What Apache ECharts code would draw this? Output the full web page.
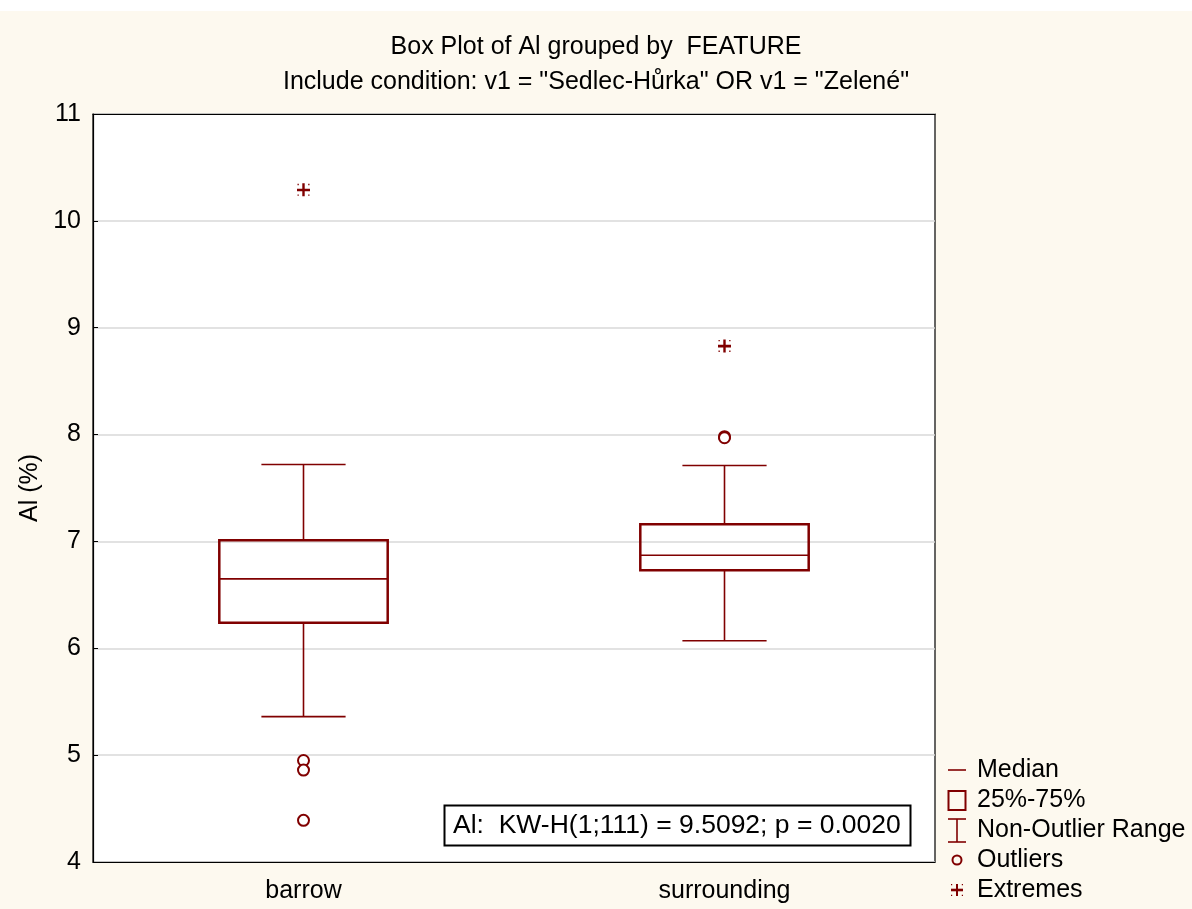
<!DOCTYPE html>
<html>
<head>
<meta charset="utf-8">
<script src="https://cdn.jsdelivr.net/npm/echarts@6/dist/echarts.min.js"></script>
<style>
html,body{margin:0;padding:0;background:#fdf9ef;}
#chart{width:1192px;height:909px;}
</style>
</head>
<body>
<div id="chart"></div>
<script>
// ---- data ----
const categories = ['barrow', 'surrounding'];
const whiskerLow  = [5.36, 6.07];
const quartile1   = [6.24, 6.73];
const medians     = [6.65, 6.87];
const quartile3   = [7.01, 7.16];
const whiskerHigh = [7.72, 7.71];
const outliers = [[0, 4.95], [0, 4.86], [0, 4.39], [1, 7.98], [1, 7.97]];
const extremes = [[0, 10.29], [1, 8.83]];
const yMin = 4, yMax = 11, yStep = 1;
const titleText = 'Box Plot of Al grouped by  FEATURE';
const subtitleText = 'Include condition: v1 = "Sedlec-Hůrka" OR v1 = "Zelené"';
const statText = 'Al:  KW-H(1;111) = 9.5092; p = 0.0020';
const legendNames = ['Median', '25%-75%', 'Non-Outlier Range', 'Outliers', 'Extremes'];

// ---- styling ----
const C = '#800000';
const FONT = '"Liberation Sans", Arial, sans-serif';
const boxData = categories.map((c, i) => [i, whiskerLow[i], quartile1[i], medians[i], quartile3[i], whiskerHigh[i]]);
const extremePath = 'path://M0,5.3H13V8H0Z M5.3,0H7.7V13H5.3Z M0.5,0.5H1.8V1.8H0.5Z M11.2,0.5H12.5V1.8H11.2Z M0.5,11.2H1.8V12.5H0.5Z M11.2,11.2H12.5V12.5H11.2Z';

function renderBox(params, api) {
  const x = api.value(0);
  const p1 = api.coord([x, api.value(2)]);
  const p3 = api.coord([x, api.value(4)]);
  const w = api.size([1, 0])[0] * 0.4;
  return {type: 'rect', shape: {x: p1[0] - w / 2, y: p3[1], width: w, height: p1[1] - p3[1]},
          style: {fill: 'none', stroke: C, lineWidth: 2.5}};
}
function renderMedian(params, api) {
  const x = api.value(0);
  const pm = api.coord([x, api.value(3)]);
  const w = api.size([1, 0])[0] * 0.4;
  return {type: 'line', shape: {x1: pm[0] - w / 2, y1: pm[1], x2: pm[0] + w / 2, y2: pm[1]},
          style: {stroke: C, lineWidth: 1.6}};
}
function renderWhisker(params, api) {
  const x = api.value(0);
  const pl = api.coord([x, api.value(1)]);
  const p1 = api.coord([x, api.value(2)]);
  const p3 = api.coord([x, api.value(4)]);
  const ph = api.coord([x, api.value(5)]);
  const cw = api.size([1, 0])[0] * 0.2;
  const st = {stroke: C, lineWidth: 1.6};
  return {type: 'group', children: [
    {type: 'line', shape: {x1: ph[0], y1: ph[1], x2: p3[0], y2: p3[1]}, style: st},
    {type: 'line', shape: {x1: pl[0], y1: pl[1], x2: p1[0], y2: p1[1]}, style: st},
    {type: 'line', shape: {x1: ph[0] - cw / 2, y1: ph[1], x2: ph[0] + cw / 2, y2: ph[1]}, style: st},
    {type: 'line', shape: {x1: pl[0] - cw / 2, y1: pl[1], x2: pl[0] + cw / 2, y2: pl[1]}, style: st}
  ]};
}

// legend built from graphic elements
const LX = 948, LT = 977, LY0 = 770, LDY = 30;
const legendGraphics = [];
legendGraphics.push({type: 'line', shape: {x1: LX, y1: LY0, x2: LX + 18, y2: LY0}, style: {stroke: C, lineWidth: 1.6}});
legendGraphics.push({type: 'rect', shape: {x: LX + 0.5, y: LY0 + LDY - 9, width: 17, height: 19}, style: {fill: 'none', stroke: C, lineWidth: 2}});
legendGraphics.push({type: 'line', shape: {x1: LX, y1: LY0 + 2 * LDY - 11, x2: LX + 18, y2: LY0 + 2 * LDY - 11}, style: {stroke: C, lineWidth: 1.6}});
legendGraphics.push({type: 'line', shape: {x1: LX, y1: LY0 + 2 * LDY + 12, x2: LX + 18, y2: LY0 + 2 * LDY + 12}, style: {stroke: C, lineWidth: 1.6}});
legendGraphics.push({type: 'line', shape: {x1: LX + 9, y1: LY0 + 2 * LDY - 11, x2: LX + 9, y2: LY0 + 2 * LDY + 12}, style: {stroke: C, lineWidth: 1.6}});
legendGraphics.push({type: 'circle', shape: {cx: LX + 9, cy: LY0 + 3 * LDY, r: 4.5}, style: {fill: 'none', stroke: C, lineWidth: 2}});
(function () {
  const cx = LX + 9, cy = LY0 + 4 * LDY;
  const parts = [[-6, -1.3, 12, 2.6], [-1, -6, 2, 12], [-6, -6, 1.2, 1.2], [4.8, -6, 1.2, 1.2], [-6, 4.8, 1.2, 1.2], [4.8, 4.8, 1.2, 1.2]];
  legendGraphics.push({type: 'group', children: parts.map(p => ({type: 'rect', shape: {x: cx + p[0], y: cy + p[1], width: p[2], height: p[3]}, style: {fill: C}}))});
})();
legendNames.forEach((n, i) => {
  legendGraphics.push({type: 'text', x: LT, y: LY0 + i * LDY,
    style: {text: n, font: '25px ' + FONT, fill: '#000', verticalAlign: 'middle', align: 'left'}});
});

const chart = echarts.init(document.getElementById('chart'), null, {renderer: 'canvas'});
chart.setOption({
  backgroundColor: '#fdf9ef',
  animation: false,
  title: {
    text: titleText, subtext: subtitleText, left: 'center', top: 30, itemGap: 10,
    textStyle: {fontFamily: FONT, fontSize: 25, fontWeight: 'normal', color: '#000'},
    subtextStyle: {fontFamily: FONT, fontSize: 25, color: '#000'}
  },
  grid: {left: 93, top: 114, width: 842, height: 748, show: true, backgroundColor: '#fff',
         borderColor: '#000', borderWidth: 1.2},
  xAxis: [{
    type: 'category', data: categories, position: 'bottom',
    axisLine: {lineStyle: {color: '#000', width: 1.2}},
    axisTick: {inside: true, alignWithLabel: true, length: 5, lineStyle: {color: '#000'}},
    axisLabel: {fontFamily: FONT, fontSize: 25, color: '#000', margin: 17},
    splitLine: {show: false}
  }, {
    type: 'category', data: categories, position: 'top',
    axisLine: {lineStyle: {color: '#000', width: 1.2}},
    axisTick: {inside: true, alignWithLabel: true, length: 5, lineStyle: {color: '#000'}},
    axisLabel: {show: false}
  }],
  yAxis: {
    type: 'value', min: yMin, max: yMax, interval: yStep,
    name: 'Al (%)', nameLocation: 'middle', nameGap: 50, nameRotate: 90,
    nameTextStyle: {fontFamily: FONT, fontSize: 25, color: '#000'},
    axisLine: {show: true, lineStyle: {color: '#000', width: 1.2}},
    axisTick: {show: true, inside: true, length: 5, lineStyle: {color: '#000'}},
    axisLabel: {fontFamily: FONT, fontSize: 25, color: '#000', margin: 12},
    splitLine: {show: true, lineStyle: {color: '#d9d9d9', width: 1.5}}
  },
  series: [
    {name: 'Non-Outlier Range', type: 'custom', renderItem: renderWhisker, data: boxData, encode: {x: 0, y: [1, 2, 3, 4, 5]}, z: 2},
    {name: '25%-75%', type: 'custom', renderItem: renderBox, data: boxData, encode: {x: 0, y: [1, 2, 3, 4, 5]}, z: 3},
    {name: 'Median', type: 'custom', renderItem: renderMedian, data: boxData, encode: {x: 0, y: [1, 2, 3, 4, 5]}, z: 4},
    {name: 'Outliers', type: 'scatter', data: outliers, symbol: 'emptyCircle', symbolSize: 11,
     itemStyle: {color: C, borderColor: C, borderWidth: 2, opacity: 1}, z: 5},
    {name: 'Extremes', type: 'scatter', data: extremes, symbol: extremePath, symbolSize: 13,
     itemStyle: {color: C, opacity: 1}, z: 5}
  ],
  graphic: [
    {type: 'rect', left: 0, top: 0, shape: {width: 1192, height: 11}, style: {fill: '#fff'}, silent: true},
    {type: 'rect', shape: {x: 444.5, y: 805.5, width: 466, height: 40}, style: {fill: '#fff', stroke: '#000', lineWidth: 2}, z: 10},
    {type: 'text', x: 453, y: 826, z: 11, style: {text: statText, font: '26.5px ' + FONT, fill: '#000', verticalAlign: 'middle'}},
    ...legendGraphics
  ]
});
</script>
</body>
</html>
